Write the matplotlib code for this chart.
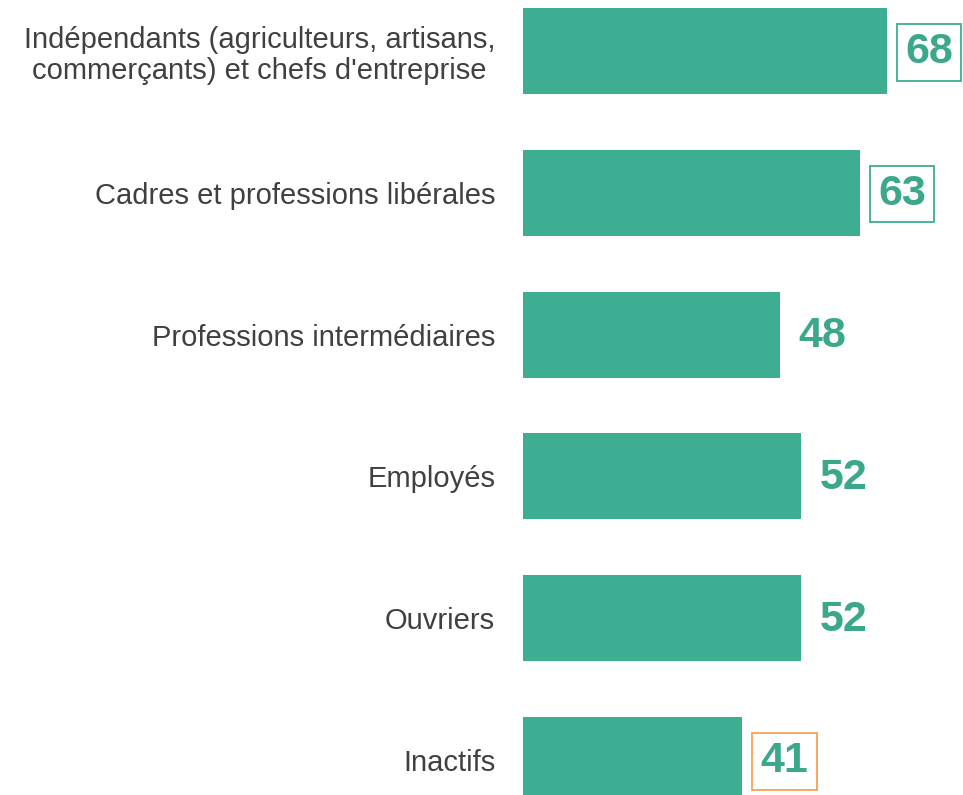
import matplotlib
matplotlib.use('Agg')
import matplotlib.pyplot as plt

categories = [
    "Indépendants (agriculteurs, artisans,\ncommerçants) et chefs d'entreprise",
    "Cadres et professions libérales",
    "Professions intermédiaires",
    "Employés",
    "Ouvriers",
    "Inactifs",
]
values = [68, 63, 48, 52, 52, 41]
# encadré autour de certaines valeurs : None, 'teal' ou 'orange'
frames = ['teal', 'teal', None, None, None, 'orange']

teal = '#3EAE93'
text_teal = '#3BA88C'
orange = '#F5A15A'
frame_colors = {'teal': teal, 'orange': orange}

plt.rcParams['font.family'] = ['Liberation Sans', 'DejaVu Sans']

fig = plt.figure(figsize=(9.63, 7.95), dpi=100)
ax = fig.add_axes([523 / 963, 0, 440 / 963, 1])

y = list(range(len(values)))
ax.barh(y, values, height=0.606, color=teal)

ax.set_xlim(0, 440 / 5.353)
ax.set_ylim(5.247, -0.36)

ax.set_yticks(y)
ax.set_yticklabels(categories, fontsize=21, color='#404040',
                   multialignment='center', linespacing=1.15)
ax.tick_params(axis='y', length=0, pad=20)
ax.set_xticks([])
for s in ax.spines.values():
    s.set_visible(False)

for yi, v, fr in zip(y, values, frames):
    bbox = None
    if fr:
        bbox = dict(boxstyle='square,pad=0.19', facecolor='white',
                    edgecolor=frame_colors[fr], linewidth=1.3)
    ax.text(v + 7.85, yi + 0.01, str(v), ha='center', va='center', fontsize=31,
            fontweight='bold', color=text_teal, bbox=bbox)

fig.savefig('out.png', dpi=100)
plt.close(fig)
